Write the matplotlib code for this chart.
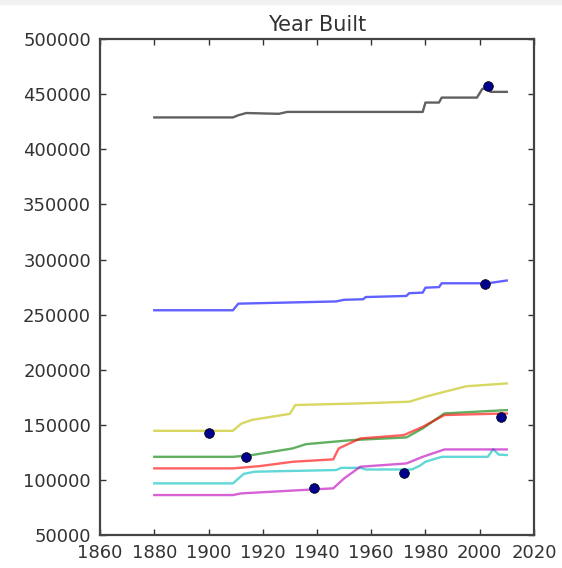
import matplotlib
matplotlib.use("Agg")
import matplotlib.pyplot as plt
from matplotlib.patches import Rectangle

# Partial-dependence style curves of predicted price against year built
black_years = [1880, 1909, 1911, 1914, 1922, 1926, 1929, 1979, 1980, 1985, 1986, 1999, 2001, 2003, 2004, 2010]
black_vals = [429000, 429000, 431000, 433000, 432500, 432300, 434000, 434000, 442500, 442500, 447000, 447000, 455000, 455000, 452200, 452200]

blue_years = [1880, 1909, 1911, 1947, 1950, 1957, 1958, 1973, 1974, 1979, 1980, 1985, 1986, 2003, 2010]
blue_vals = [254000, 254000, 260000, 262000, 263500, 264000, 266000, 267000, 269500, 270000, 274500, 275000, 278500, 278500, 281000]

yellow_years = [1880, 1909, 1912, 1916, 1930, 1932, 1956, 1974, 1980, 1987, 1995, 2010]
yellow_vals = [144600, 144600, 151000, 154500, 160000, 168000, 169500, 171000, 175500, 180000, 185000, 187600]

green_years = [1880, 1909, 1916, 1931, 1936, 1953, 1973, 1979, 1987, 2010]
green_vals = [121000, 121000, 122600, 128600, 132500, 136200, 138600, 146800, 160400, 163400]

red_years = [1880, 1909, 1919, 1931, 1946, 1948, 1956, 1972, 1979, 1987, 2010]
red_vals = [110500, 110500, 112600, 116500, 118700, 128600, 137700, 140700, 148200, 158900, 160400]

cyan_years = [1880, 1909, 1913, 1917, 1947, 1949, 1956, 1958, 1975, 1978, 1980, 1986, 2003, 2005, 2007, 2010]
cyan_vals = [96900, 96900, 105500, 107500, 109000, 111000, 111000, 109500, 109500, 113000, 116500, 121000, 121000, 128000, 123000, 122600]

magenta_years = [1880, 1909, 1912, 1946, 1950, 1956, 1973, 1979, 1987, 2010]
magenta_vals = [86300, 86300, 87800, 92400, 101400, 112000, 115000, 121000, 127700, 127700]

# Observed (year, price) points
point_years = [2003, 2002, 1900, 1914, 2008, 1972, 1939]
point_vals = [457400, 277700, 142300, 120500, 156800, 106000, 92400]

x_ticks = [1860, 1880, 1900, 1920, 1940, 1960, 1980, 2000, 2020]
y_ticks = [50000, 100000, 150000, 200000, 250000, 300000, 350000, 400000, 450000, 500000]

fig = plt.figure(figsize=(5.62, 5.68), dpi=100)
fig.patches.append(Rectangle((0, 0.993), 1, 0.007, transform=fig.transFigure,
                             color="#f2f2f2", zorder=0))
ax = fig.add_axes([0.178, 0.058, 0.772, 0.873])

series = [
    (black_years, black_vals, "k"),
    (blue_years, blue_vals, "b"),
    (yellow_years, yellow_vals, "y"),
    (green_years, green_vals, "g"),
    (red_years, red_vals, "r"),
    (cyan_years, cyan_vals, "c"),
    (magenta_years, magenta_vals, "m"),
]
for yrs, vals, c in series:
    ax.plot(yrs, vals, color=c, alpha=0.62, linewidth=1.7)

ax.plot(point_years, point_vals, "o", color="#00008c", markeredgecolor="black",
        markeredgewidth=0.5, markersize=7, zorder=5)

ax.set_xlim(1860, 2020)
ax.set_ylim(50000, 500000)
ax.set_xticks(x_ticks)
ax.set_yticks(y_ticks)
ax.tick_params(direction="in", top=True, right=True, length=4, width=1,
               labelsize=13, colors="#333333", pad=6.5)
for s in ax.spines.values():
    s.set_linewidth(1.6)
    s.set_color("#444444")
ax.set_title("Year Built", fontsize=15, color="#333333", pad=6)

fig.savefig("out.png", dpi=100)
